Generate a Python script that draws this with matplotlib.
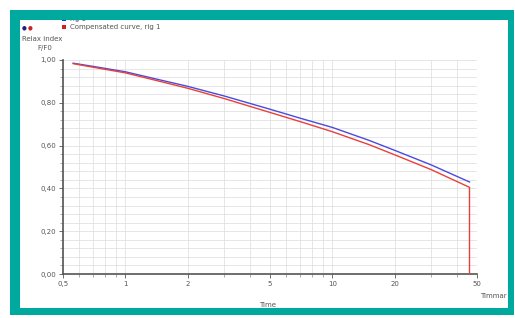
import numpy as np
import matplotlib
matplotlib.use("Agg")
from matplotlib import pyplot as plt
from matplotlib.patches import Rectangle
from matplotlib.ticker import FixedLocator, FixedFormatter, MultipleLocator, FuncFormatter

# relaxation curves
time_h = [0.56, 0.7, 1.0, 1.5, 2.0, 3.0, 5.0, 7.0, 10.0, 15.0, 20.0, 30.0, 46.0]
rig1 = [0.985, 0.97, 0.945, 0.905, 0.877, 0.832, 0.77, 0.728, 0.685, 0.625, 0.578, 0.51, 0.43]
compensated = [0.983, 0.966, 0.94, 0.898, 0.868, 0.82, 0.755, 0.712, 0.665, 0.605, 0.557, 0.488, 0.405]

xticks = [0.5, 1, 2, 5, 10, 20, 50]
xlabels = ["0,5", "1", "2", "5", "10", "20", "50"]

W, H = 515, 318
fig = plt.figure(figsize=(W / 100, H / 100), dpi=100)
fig.patch.set_facecolor("white")


def px_rect(x0, top, x1, bottom, color, z):
    # rectangle given in pixel coords measured from the top-left corner
    fig.patches.append(Rectangle((x0 / W, 1 - bottom / H), (x1 - x0) / W, (bottom - top) / H,
                                 transform=fig.transFigure, facecolor=color,
                                 edgecolor="none", zorder=z))


teal = "#00a99d"
# teal frame (on top, so it clips the first legend line like the original)
px_rect(10, 10, 514, 20, teal, 10)
px_rect(10, 308, 514, 315, teal, 10)
px_rect(10, 10, 20, 315, teal, 10)
px_rect(508, 10, 514, 315, teal, 10)

ax = fig.add_axes([63 / W, 1 - 274 / H, (477 - 63) / W, (274 - 60) / H])
ax.plot(time_h, rig1, color="#4a4ae0", lw=1.0, zorder=3)
ax.plot(time_h + [time_h[-1]], compensated + [0.0], color="#e8403a", lw=1.0, zorder=4)

ax.set_xscale("log")
ax.set_xlim(0.5, 50)
ax.set_ylim(0, 1.0)
ax.xaxis.set_major_locator(FixedLocator(xticks))
ax.xaxis.set_major_formatter(FixedFormatter(xlabels))
minors = [m * d for d in (0.1, 1, 10) for m in range(2, 10) if 0.5 < m * d < 50]
ax.xaxis.set_minor_locator(FixedLocator(minors))
ax.xaxis.set_minor_formatter(FuncFormatter(lambda v, p: ""))
ax.yaxis.set_major_locator(MultipleLocator(0.2))
ax.yaxis.set_minor_locator(MultipleLocator(0.04))
ax.yaxis.set_major_formatter(FuncFormatter(lambda v, p: f"{v:.2f}".replace(".", ",")))

ax.grid(which="both", color="#dcdcdc", lw=0.5)
ax.set_axisbelow(True)
for s in ["top", "right"]:
    ax.spines[s].set_visible(False)
for s in ["left", "bottom"]:
    ax.spines[s].set_color("#555555")
    ax.spines[s].set_linewidth(1.2)
ax.tick_params(which="major", length=3, width=0.6, colors="#555555", labelsize=5, labelcolor="#555555", pad=2)
ax.tick_params(which="minor", length=2, width=0.5, colors="#888888")

tc = "#555555"
fig.text(268 / W, 1 - 305 / H, "Time", fontsize=5, color=tc, ha="center", va="center")
fig.text(480 / W, 1 - 296 / H, "Timmar", fontsize=5, color=tc, ha="left", va="center")
fig.text(22 / W, 1 - 39 / H, "Relax index", fontsize=5, color=tc, ha="left", va="center")
fig.text(52 / W, 1 - 48 / H, "F/F0", fontsize=5, color=tc, ha="right", va="center")

# legend block
px_rect(62, 17, 66, 21, "#3030d0", 5)
fig.text(70 / W, 1 - 19 / H, "rig 1", fontsize=5, color=tc, ha="left", va="center", zorder=5)
px_rect(62, 25, 66, 29, "#d02020", 5)
fig.text(70 / W, 1 - 27 / H, "Compensated curve, rig 1", fontsize=5, color=tc, ha="left", va="center")
fig.text(22 / W, 1 - 28 / H, "\u25CF", fontsize=4, color="#202080", ha="left", va="center")
fig.text(28 / W, 1 - 28 / H, "\u25CF", fontsize=4, color="#d02020", ha="left", va="center")

fig.savefig("out.png", dpi=100)
